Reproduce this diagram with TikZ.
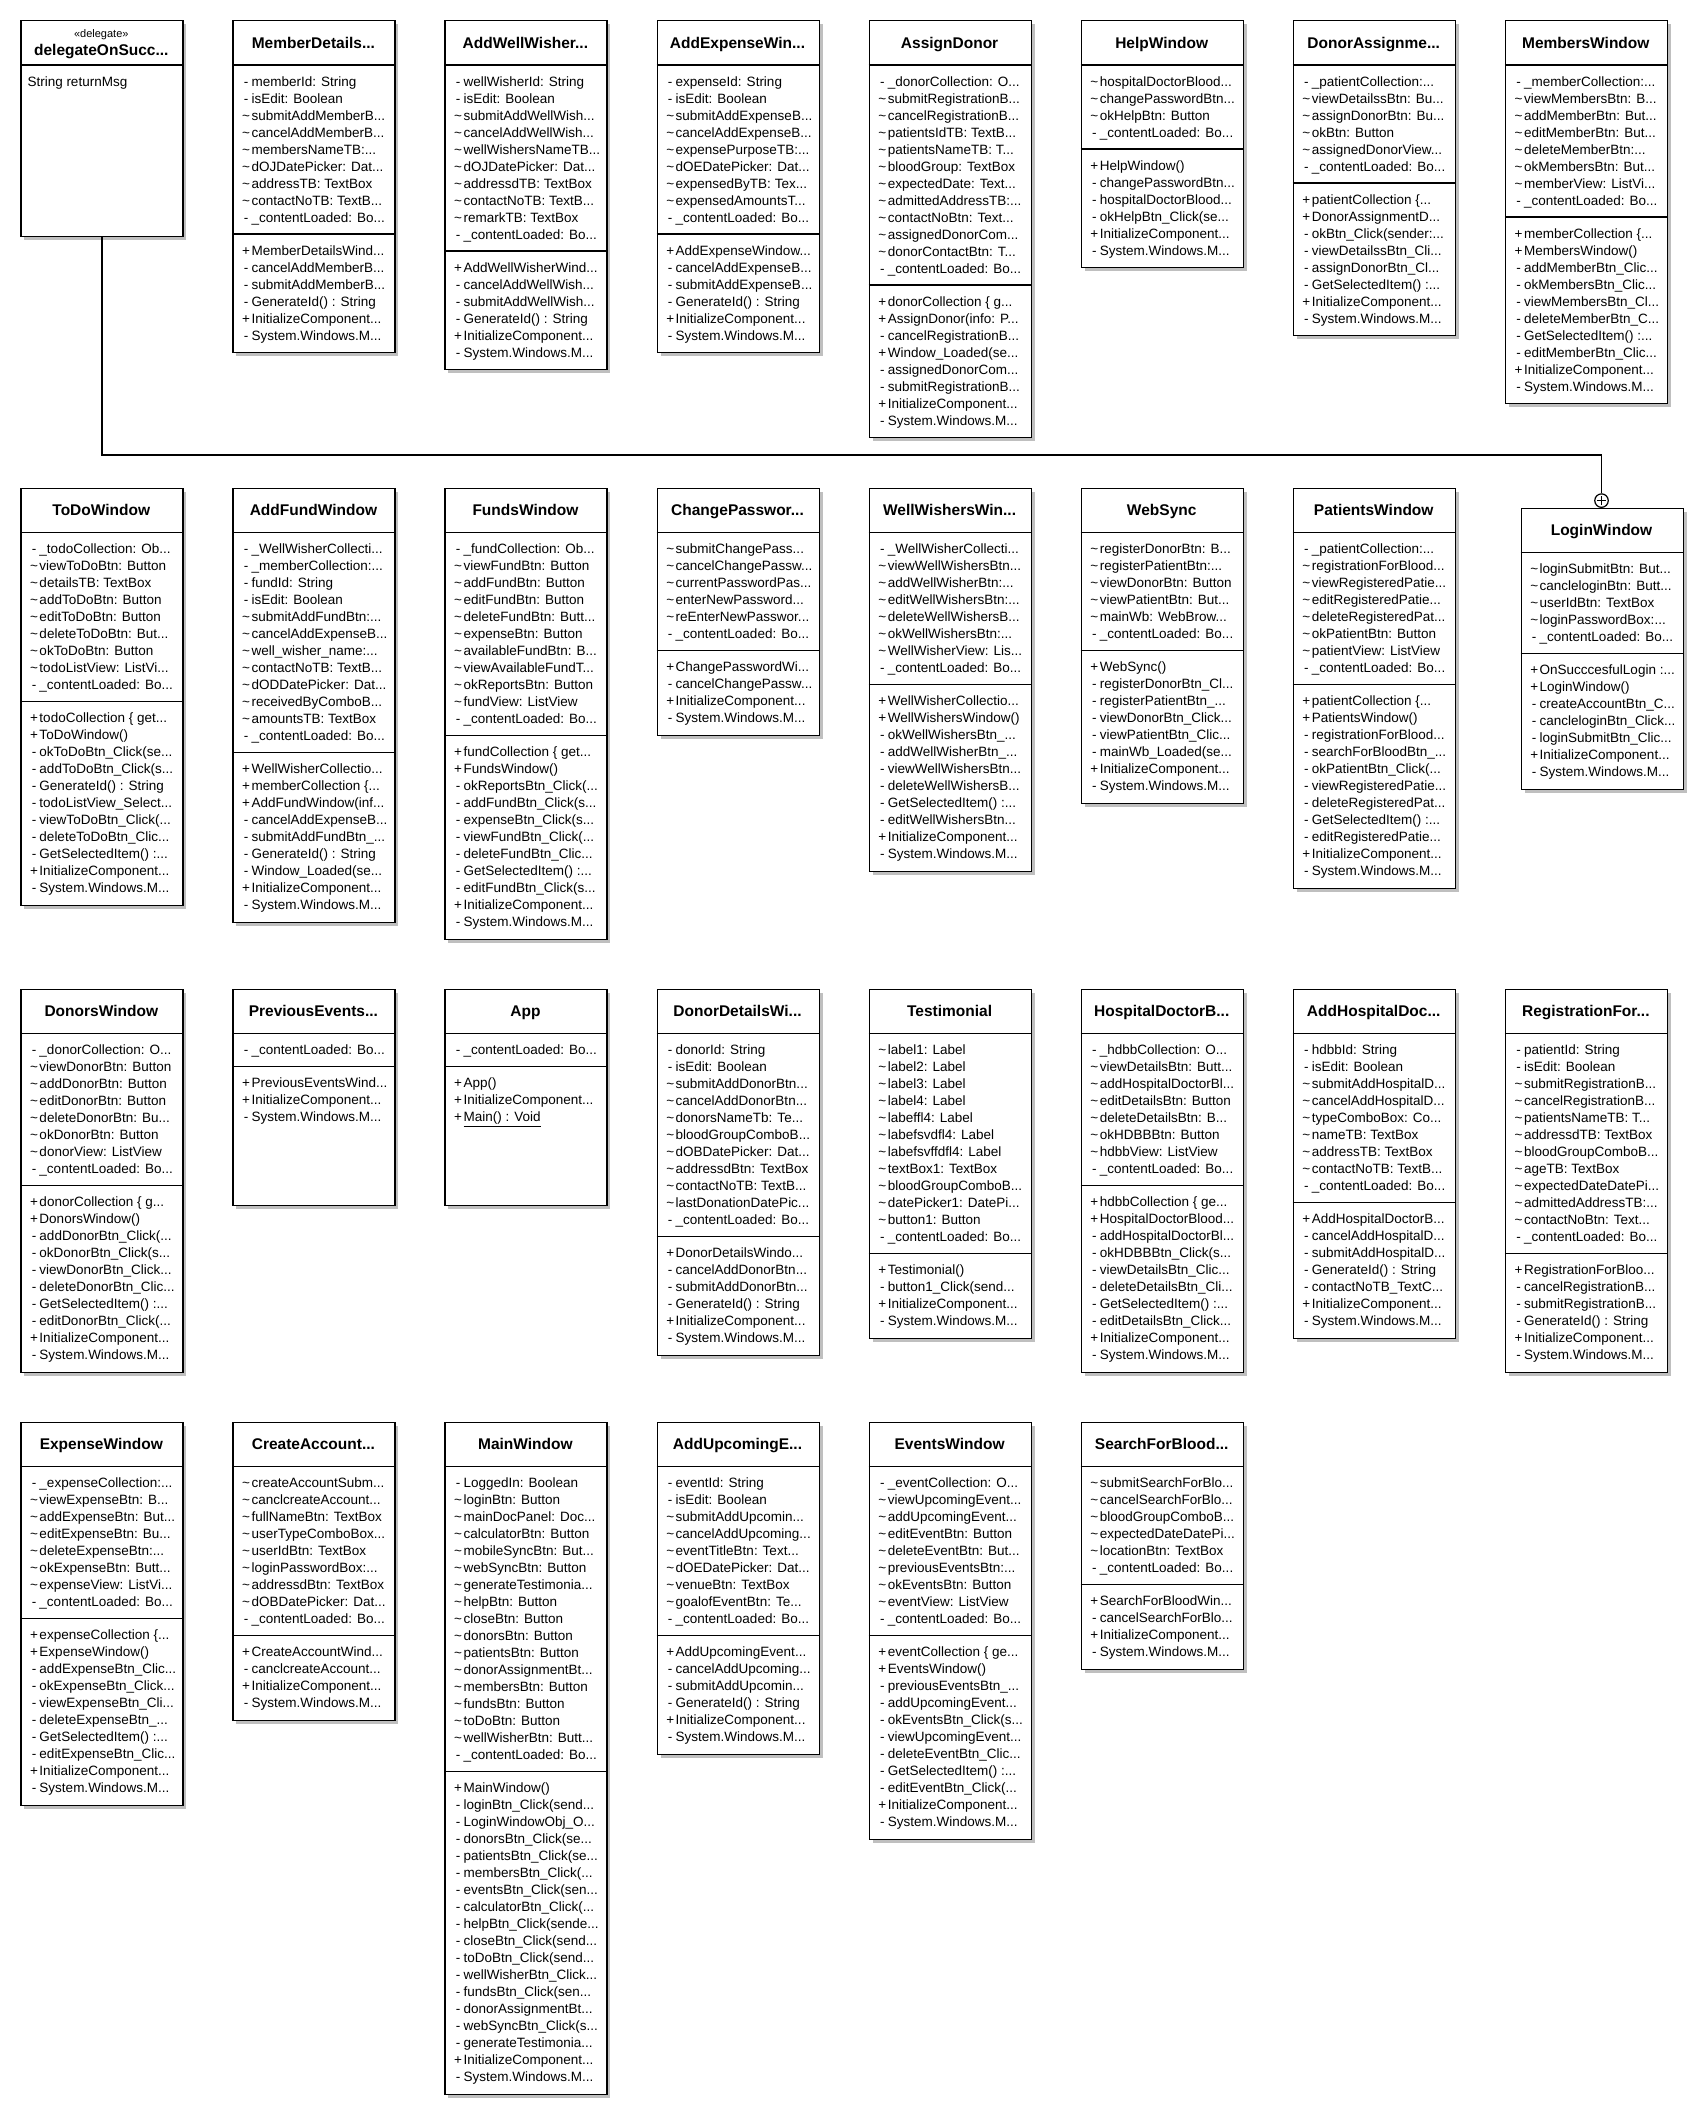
\documentclass[tikz,border=0pt]{standalone}
\usepackage{fontspec}
\setmainfont{Liberation Sans}
\newcommand\lnK[1]{\strut\hspace*{8pt}\makebox[11pt]{\textasciitilde}#1}
\newcommand\lnM[1]{\strut\hspace*{8pt}\makebox[11pt]{-}#1}
\newcommand\lnP[1]{\strut\hspace*{8pt}\makebox[11pt]{+}#1}
\tikzset{
  clsbox/.style={rectangle, draw=black, line width=1.2pt, fill=white, minimum width=162pt, inner sep=0pt, anchor=north west},
  divl/.style={line width=1.2pt},
  ttl/.style={anchor=base, inner sep=0pt, font=\fontsize{15.5}{18}\selectfont\bfseries},
  stereo/.style={anchor=base, inner sep=0pt, font=\fontsize{11}{13}\selectfont},
  cmp/.style={anchor=north west, inner sep=0pt, align=left, font=\fontsize{13.5}{17}\selectfont},
  shadowc/.style={fill=black!25},
  conn/.style={line width=1.2pt},
}
% #1 name, #2 x, #3 y, #4 title, #5 n attrs, #6 n ops, #7 attrs, #8 ops
\newcommand\umlbox[8]{%
  \pgfmathsetmacro\ua{45+17*#5+16}%
  \pgfmathsetmacro\uh{max(216,\ua+17*#6+16)}%
  \fill[shadowc] (#2+4,#3+4) rectangle (#2+166,#3+\uh+4);
  \node[clsbox, minimum height=\uh pt] (#1) at (#2,#3) {};
  \draw[divl] (#2,#3+45) -- (#2+162,#3+45);
  \draw[divl] (#2,#3+\ua) -- (#2+162,#3+\ua);
  \node[ttl] (#1-t) at (#2+81,#3+28.2) {#4};
  \node[cmp] (#1-a) at (#2,#3+54) {#7};
  \node[cmp] (#1-o) at (#2,#3+\ua+9) {#8};
}
\begin{document}
\begin{tikzpicture}[x=1pt,y=-1pt]
\useasboundingbox[fill=white] (0,0) rectangle (1707,2118);

% ---------- delegate ----------
\fill[shadowc] (24.3,24) rectangle (186.3,240);
\node[clsbox, minimum height=216pt] (deleg) at (20.3,20) {};
\draw[divl] (20.3,65) -- (182.3,65);
\node[stereo] (deleg-s) at (101.3,37) {«delegate»};
\node[ttl] (deleg-t) at (101.3,55.6) {delegateOnSucc...};
\node[cmp] (deleg-a) at (20.3,74) {\strut\hspace*{7pt}String returnMsg};

% ---------- row 1 ----------
\umlbox{memberdetails}{232.4}{20}{MemberDetails...}{9}{6}{%
\lnM{memberId: String}\\
\lnM{isEdit: Boolean}\\
\lnK{submitAddMemberB...}\\
\lnK{cancelAddMemberB...}\\
\lnK{membersNameTB:...}\\
\lnK{dOJDatePicker: Dat...}\\
\lnK{addressTB: TextBox}\\
\lnK{contactNoTB: TextB...}\\
\lnM{\_contentLoaded: Bo...}}{%
\lnP{MemberDetailsWind...}\\
\lnM{cancelAddMemberB...}\\
\lnM{submitAddMemberB...}\\
\lnM{GenerateId() : String}\\
\lnP{InitializeComponent...}\\
\lnM{System.Windows.M...}}

\umlbox{addwellwisher}{444.4}{20}{AddWellWisher...}{10}{6}{%
\lnM{wellWisherId: String}\\
\lnM{isEdit: Boolean}\\
\lnK{submitAddWellWish...}\\
\lnK{cancelAddWellWish...}\\
\lnK{wellWishersNameTB...}\\
\lnK{dOJDatePicker: Dat...}\\
\lnK{addressdTB: TextBox}\\
\lnK{contactNoTB: TextB...}\\
\lnK{remarkTB: TextBox}\\
\lnM{\_contentLoaded: Bo...}}{%
\lnP{AddWellWisherWind...}\\
\lnM{cancelAddWellWish...}\\
\lnM{submitAddWellWish...}\\
\lnM{GenerateId() : String}\\
\lnP{InitializeComponent...}\\
\lnM{System.Windows.M...}}

\umlbox{addexpense}{656.5}{20}{AddExpenseWin...}{9}{6}{%
\lnM{expenseId: String}\\
\lnM{isEdit: Boolean}\\
\lnK{submitAddExpenseB...}\\
\lnK{cancelAddExpenseB...}\\
\lnK{expensePurposeTB:...}\\
\lnK{dOEDatePicker: Dat...}\\
\lnK{expensedByTB: Tex...}\\
\lnK{expensedAmountsT...}\\
\lnM{\_contentLoaded: Bo...}}{%
\lnP{AddExpenseWindow...}\\
\lnM{cancelAddExpenseB...}\\
\lnM{submitAddExpenseB...}\\
\lnM{GenerateId() : String}\\
\lnP{InitializeComponent...}\\
\lnM{System.Windows.M...}}

\umlbox{assigndonor}{868.6}{20}{AssignDonor}{12}{8}{%
\lnM{\_donorCollection: O...}\\
\lnK{submitRegistrationB...}\\
\lnK{cancelRegistrationB...}\\
\lnK{patientsIdTB: TextB...}\\
\lnK{patientsNameTB: T...}\\
\lnK{bloodGroup: TextBox}\\
\lnK{expectedDate: Text...}\\
\lnK{admittedAddressTB:...}\\
\lnK{contactNoBtn: Text...}\\
\lnK{assignedDonorCom...}\\
\lnK{donorContactBtn: T...}\\
\lnM{\_contentLoaded: Bo...}}{%
\lnP{donorCollection \{ g...}\\
\lnP{AssignDonor(info: P...}\\
\lnM{cancelRegistrationB...}\\
\lnP{Window\_Loaded(se...}\\
\lnM{assignedDonorCom...}\\
\lnM{submitRegistrationB...}\\
\lnP{InitializeComponent...}\\
\lnM{System.Windows.M...}}

\umlbox{helpwindow}{1080.7}{20}{HelpWindow}{4}{6}{%
\lnK{hospitalDoctorBlood...}\\
\lnK{changePasswordBtn...}\\
\lnK{okHelpBtn: Button}\\
\lnM{\_contentLoaded: Bo...}}{%
\lnP{HelpWindow()}\\
\lnM{changePasswordBtn...}\\
\lnM{hospitalDoctorBlood...}\\
\lnM{okHelpBtn\_Click(se...}\\
\lnP{InitializeComponent...}\\
\lnM{System.Windows.M...}}

\umlbox{donorassignment}{1292.7}{20}{DonorAssignme...}{6}{8}{%
\lnM{\_patientCollection:...}\\
\lnK{viewDetailssBtn: Bu...}\\
\lnK{assignDonorBtn: Bu...}\\
\lnK{okBtn: Button}\\
\lnK{assignedDonorView...}\\
\lnM{\_contentLoaded: Bo...}}{%
\lnP{patientCollection \{...}\\
\lnP{DonorAssignmentD...}\\
\lnM{okBtn\_Click(sender:...}\\
\lnM{viewDetailssBtn\_Cli...}\\
\lnM{assignDonorBtn\_Cl...}\\
\lnM{GetSelectedItem() :...}\\
\lnP{InitializeComponent...}\\
\lnM{System.Windows.M...}}

\umlbox{memberswindow}{1504.8}{20}{MembersWindow}{8}{10}{%
\lnM{\_memberCollection:...}\\
\lnK{viewMembersBtn: B...}\\
\lnK{addMemberBtn: But...}\\
\lnK{editMemberBtn: But...}\\
\lnK{deleteMemberBtn:...}\\
\lnK{okMembersBtn: But...}\\
\lnK{memberView: ListVi...}\\
\lnM{\_contentLoaded: Bo...}}{%
\lnP{memberCollection \{...}\\
\lnP{MembersWindow()}\\
\lnM{addMemberBtn\_Clic...}\\
\lnM{okMembersBtn\_Clic...}\\
\lnM{viewMembersBtn\_Cl...}\\
\lnM{deleteMemberBtn\_C...}\\
\lnM{GetSelectedItem() :...}\\
\lnM{editMemberBtn\_Clic...}\\
\lnP{InitializeComponent...}\\
\lnM{System.Windows.M...}}

% ---------- row 2 ----------
\umlbox{todowindow}{20.3}{487.5}{ToDoWindow}{9}{11}{%
\lnM{\_todoCollection: Ob...}\\
\lnK{viewToDoBtn: Button}\\
\lnK{detailsTB: TextBox}\\
\lnK{addToDoBtn: Button}\\
\lnK{editToDoBtn: Button}\\
\lnK{deleteToDoBtn: But...}\\
\lnK{okToDoBtn: Button}\\
\lnK{todoListView: ListVi...}\\
\lnM{\_contentLoaded: Bo...}}{%
\lnP{todoCollection \{ get...}\\
\lnP{ToDoWindow()}\\
\lnM{okToDoBtn\_Click(se...}\\
\lnM{addToDoBtn\_Click(s...}\\
\lnM{GenerateId() : String}\\
\lnM{todoListView\_Select...}\\
\lnM{viewToDoBtn\_Click(...}\\
\lnM{deleteToDoBtn\_Clic...}\\
\lnM{GetSelectedItem() :...}\\
\lnP{InitializeComponent...}\\
\lnM{System.Windows.M...}}

\umlbox{addfund}{232.4}{487.5}{AddFundWindow}{12}{9}{%
\lnM{\_WellWisherCollecti...}\\
\lnM{\_memberCollection:...}\\
\lnM{fundId: String}\\
\lnM{isEdit: Boolean}\\
\lnK{submitAddFundBtn:...}\\
\lnK{cancelAddExpenseB...}\\
\lnK{well\_wisher\_name:...}\\
\lnK{contactNoTB: TextB...}\\
\lnK{dODDatePicker: Dat...}\\
\lnK{receivedByComboB...}\\
\lnK{amountsTB: TextBox}\\
\lnM{\_contentLoaded: Bo...}}{%
\lnP{WellWisherCollectio...}\\
\lnP{memberCollection \{...}\\
\lnP{AddFundWindow(inf...}\\
\lnM{cancelAddExpenseB...}\\
\lnM{submitAddFundBtn\_...}\\
\lnM{GenerateId() : String}\\
\lnM{Window\_Loaded(se...}\\
\lnP{InitializeComponent...}\\
\lnM{System.Windows.M...}}

\umlbox{fundswindow}{444.4}{487.5}{FundsWindow}{11}{11}{%
\lnM{\_fundCollection: Ob...}\\
\lnK{viewFundBtn: Button}\\
\lnK{addFundBtn: Button}\\
\lnK{editFundBtn: Button}\\
\lnK{deleteFundBtn: Butt...}\\
\lnK{expenseBtn: Button}\\
\lnK{availableFundBtn: B...}\\
\lnK{viewAvailableFundT...}\\
\lnK{okReportsBtn: Button}\\
\lnK{fundView: ListView}\\
\lnM{\_contentLoaded: Bo...}}{%
\lnP{fundCollection \{ get...}\\
\lnP{FundsWindow()}\\
\lnM{okReportsBtn\_Click(...}\\
\lnM{addFundBtn\_Click(s...}\\
\lnM{expenseBtn\_Click(s...}\\
\lnM{viewFundBtn\_Click(...}\\
\lnM{deleteFundBtn\_Clic...}\\
\lnM{GetSelectedItem() :...}\\
\lnM{editFundBtn\_Click(s...}\\
\lnP{InitializeComponent...}\\
\lnM{System.Windows.M...}}

\umlbox{changepassword}{656.5}{487.5}{ChangePasswor...}{6}{4}{%
\lnK{submitChangePass...}\\
\lnK{cancelChangePassw...}\\
\lnK{currentPasswordPas...}\\
\lnK{enterNewPassword...}\\
\lnK{reEnterNewPasswor...}\\
\lnM{\_contentLoaded: Bo...}}{%
\lnP{ChangePasswordWi...}\\
\lnM{cancelChangePassw...}\\
\lnP{InitializeComponent...}\\
\lnM{System.Windows.M...}}

\umlbox{wellwishers}{868.6}{487.5}{WellWishersWin...}{8}{10}{%
\lnM{\_WellWisherCollecti...}\\
\lnK{viewWellWishersBtn...}\\
\lnK{addWellWisherBtn:...}\\
\lnK{editWellWishersBtn:...}\\
\lnK{deleteWellWishersB...}\\
\lnK{okWellWishersBtn:...}\\
\lnK{WellWisherView: Lis...}\\
\lnM{\_contentLoaded: Bo...}}{%
\lnP{WellWisherCollectio...}\\
\lnP{WellWishersWindow()}\\
\lnM{okWellWishersBtn\_...}\\
\lnM{addWellWisherBtn\_...}\\
\lnM{viewWellWishersBtn...}\\
\lnM{deleteWellWishersB...}\\
\lnM{GetSelectedItem() :...}\\
\lnM{editWellWishersBtn...}\\
\lnP{InitializeComponent...}\\
\lnM{System.Windows.M...}}

\umlbox{websync}{1080.7}{487.5}{WebSync}{6}{8}{%
\lnK{registerDonorBtn: B...}\\
\lnK{registerPatientBtn:...}\\
\lnK{viewDonorBtn: Button}\\
\lnK{viewPatientBtn: But...}\\
\lnK{mainWb: WebBrow...}\\
\lnM{\_contentLoaded: Bo...}}{%
\lnP{WebSync()}\\
\lnM{registerDonorBtn\_Cl...}\\
\lnM{registerPatientBtn\_...}\\
\lnM{viewDonorBtn\_Click...}\\
\lnM{viewPatientBtn\_Clic...}\\
\lnM{mainWb\_Loaded(se...}\\
\lnP{InitializeComponent...}\\
\lnM{System.Windows.M...}}

\umlbox{patientswindow}{1292.7}{487.5}{PatientsWindow}{8}{11}{%
\lnM{\_patientCollection:...}\\
\lnK{registrationForBlood...}\\
\lnK{viewRegisteredPatie...}\\
\lnK{editRegisteredPatie...}\\
\lnK{deleteRegisteredPat...}\\
\lnK{okPatientBtn: Button}\\
\lnK{patientView: ListView}\\
\lnM{\_contentLoaded: Bo...}}{%
\lnP{patientCollection \{...}\\
\lnP{PatientsWindow()}\\
\lnM{registrationForBlood...}\\
\lnM{searchForBloodBtn\_...}\\
\lnM{okPatientBtn\_Click(...}\\
\lnM{viewRegisteredPatie...}\\
\lnM{deleteRegisteredPat...}\\
\lnM{GetSelectedItem() :...}\\
\lnM{editRegisteredPatie...}\\
\lnP{InitializeComponent...}\\
\lnM{System.Windows.M...}}

\umlbox{loginwindow}{1520.5}{507.7}{LoginWindow}{5}{7}{%
\lnK{loginSubmitBtn: But...}\\
\lnK{cancleloginBtn: Butt...}\\
\lnK{userIdBtn: TextBox}\\
\lnK{loginPasswordBox:...}\\
\lnM{\_contentLoaded: Bo...}}{%
\lnP{OnSucccesfulLogin :...}\\
\lnP{LoginWindow()}\\
\lnM{createAccountBtn\_C...}\\
\lnM{cancleloginBtn\_Click...}\\
\lnM{loginSubmitBtn\_Clic...}\\
\lnP{InitializeComponent...}\\
\lnM{System.Windows.M...}}

% ---------- row 3 ----------
\umlbox{donorswindow}{20.3}{988.5}{DonorsWindow}{8}{10}{%
\lnM{\_donorCollection: O...}\\
\lnK{viewDonorBtn: Button}\\
\lnK{addDonorBtn: Button}\\
\lnK{editDonorBtn: Button}\\
\lnK{deleteDonorBtn: Bu...}\\
\lnK{okDonorBtn: Button}\\
\lnK{donorView: ListView}\\
\lnM{\_contentLoaded: Bo...}}{%
\lnP{donorCollection \{ g...}\\
\lnP{DonorsWindow()}\\
\lnM{addDonorBtn\_Click(...}\\
\lnM{okDonorBtn\_Click(s...}\\
\lnM{viewDonorBtn\_Click...}\\
\lnM{deleteDonorBtn\_Clic...}\\
\lnM{GetSelectedItem() :...}\\
\lnM{editDonorBtn\_Click(...}\\
\lnP{InitializeComponent...}\\
\lnM{System.Windows.M...}}

\umlbox{previousevents}{232.4}{988.5}{PreviousEvents...}{1}{3}{%
\lnM{\_contentLoaded: Bo...}}{%
\lnP{PreviousEventsWind...}\\
\lnP{InitializeComponent...}\\
\lnM{System.Windows.M...}}

\umlbox{app}{444.4}{988.5}{App}{1}{3}{%
\lnM{\_contentLoaded: Bo...}}{%
\lnP{App()}\\
\lnP{InitializeComponent...}\\
\lnP{\underline{Main() : Void}}}

\umlbox{donordetails}{656.5}{988.5}{DonorDetailsWi...}{11}{6}{%
\lnM{donorId: String}\\
\lnM{isEdit: Boolean}\\
\lnK{submitAddDonorBtn...}\\
\lnK{cancelAddDonorBtn...}\\
\lnK{donorsNameTb: Te...}\\
\lnK{bloodGroupComboB...}\\
\lnK{dOBDatePicker: Dat...}\\
\lnK{addressdBtn: TextBox}\\
\lnK{contactNoTB: TextB...}\\
\lnK{lastDonationDatePic...}\\
\lnM{\_contentLoaded: Bo...}}{%
\lnP{DonorDetailsWindo...}\\
\lnM{cancelAddDonorBtn...}\\
\lnM{submitAddDonorBtn...}\\
\lnM{GenerateId() : String}\\
\lnP{InitializeComponent...}\\
\lnM{System.Windows.M...}}

\umlbox{testimonial}{868.6}{988.5}{Testimonial}{12}{4}{%
\lnK{label1: Label}\\
\lnK{label2: Label}\\
\lnK{label3: Label}\\
\lnK{label4: Label}\\
\lnK{labeffl4: Label}\\
\lnK{labefsvdfl4: Label}\\
\lnK{labefsvffdfl4: Label}\\
\lnK{textBox1: TextBox}\\
\lnK{bloodGroupComboB...}\\
\lnK{datePicker1: DatePi...}\\
\lnK{button1: Button}\\
\lnM{\_contentLoaded: Bo...}}{%
\lnP{Testimonial()}\\
\lnM{button1\_Click(send...}\\
\lnP{InitializeComponent...}\\
\lnM{System.Windows.M...}}

\umlbox{hospitaldoctor}{1080.7}{988.5}{HospitalDoctorB...}{8}{10}{%
\lnM{\_hdbbCollection: O...}\\
\lnK{viewDetailsBtn: Butt...}\\
\lnK{addHospitalDoctorBl...}\\
\lnK{editDetailsBtn: Button}\\
\lnK{deleteDetailsBtn: B...}\\
\lnK{okHDBBBtn: Button}\\
\lnK{hdbbView: ListView}\\
\lnM{\_contentLoaded: Bo...}}{%
\lnP{hdbbCollection \{ ge...}\\
\lnP{HospitalDoctorBlood...}\\
\lnM{addHospitalDoctorBl...}\\
\lnM{okHDBBBtn\_Click(s...}\\
\lnM{viewDetailsBtn\_Clic...}\\
\lnM{deleteDetailsBtn\_Cli...}\\
\lnM{GetSelectedItem() :...}\\
\lnM{editDetailsBtn\_Click...}\\
\lnP{InitializeComponent...}\\
\lnM{System.Windows.M...}}

\umlbox{addhospital}{1292.7}{988.5}{AddHospitalDoc...}{9}{7}{%
\lnM{hdbbId: String}\\
\lnM{isEdit: Boolean}\\
\lnK{submitAddHospitalD...}\\
\lnK{cancelAddHospitalD...}\\
\lnK{typeComboBox: Co...}\\
\lnK{nameTB: TextBox}\\
\lnK{addressTB: TextBox}\\
\lnK{contactNoTB: TextB...}\\
\lnM{\_contentLoaded: Bo...}}{%
\lnP{AddHospitalDoctorB...}\\
\lnM{cancelAddHospitalD...}\\
\lnM{submitAddHospitalD...}\\
\lnM{GenerateId() : String}\\
\lnM{contactNoTB\_TextC...}\\
\lnP{InitializeComponent...}\\
\lnM{System.Windows.M...}}

\umlbox{registration}{1504.8}{988.5}{RegistrationFor...}{12}{6}{%
\lnM{patientId: String}\\
\lnM{isEdit: Boolean}\\
\lnK{submitRegistrationB...}\\
\lnK{cancelRegistrationB...}\\
\lnK{patientsNameTB: T...}\\
\lnK{addressdTB: TextBox}\\
\lnK{bloodGroupComboB...}\\
\lnK{ageTB: TextBox}\\
\lnK{expectedDateDatePi...}\\
\lnK{admittedAddressTB:...}\\
\lnK{contactNoBtn: Text...}\\
\lnM{\_contentLoaded: Bo...}}{%
\lnP{RegistrationForBloo...}\\
\lnM{cancelRegistrationB...}\\
\lnM{submitRegistrationB...}\\
\lnM{GenerateId() : String}\\
\lnP{InitializeComponent...}\\
\lnM{System.Windows.M...}}

% ---------- row 4 ----------
\umlbox{expensewindow}{20.3}{1421.5}{ExpenseWindow}{8}{10}{%
\lnM{\_expenseCollection:...}\\
\lnK{viewExpenseBtn: B...}\\
\lnK{addExpenseBtn: But...}\\
\lnK{editExpenseBtn: Bu...}\\
\lnK{deleteExpenseBtn:...}\\
\lnK{okExpenseBtn: Butt...}\\
\lnK{expenseView: ListVi...}\\
\lnM{\_contentLoaded: Bo...}}{%
\lnP{expenseCollection \{...}\\
\lnP{ExpenseWindow()}\\
\lnM{addExpenseBtn\_Clic...}\\
\lnM{okExpenseBtn\_Click...}\\
\lnM{viewExpenseBtn\_Cli...}\\
\lnM{deleteExpenseBtn\_...}\\
\lnM{GetSelectedItem() :...}\\
\lnM{editExpenseBtn\_Clic...}\\
\lnP{InitializeComponent...}\\
\lnM{System.Windows.M...}}

\umlbox{createaccount}{232.4}{1421.5}{CreateAccount...}{9}{4}{%
\lnK{createAccountSubm...}\\
\lnK{canclcreateAccount...}\\
\lnK{fullNameBtn: TextBox}\\
\lnK{userTypeComboBox...}\\
\lnK{userIdBtn: TextBox}\\
\lnK{loginPasswordBox:...}\\
\lnK{addressdBtn: TextBox}\\
\lnK{dOBDatePicker: Dat...}\\
\lnM{\_contentLoaded: Bo...}}{%
\lnP{CreateAccountWind...}\\
\lnM{canclcreateAccount...}\\
\lnP{InitializeComponent...}\\
\lnM{System.Windows.M...}}

\umlbox{mainwindow}{444.4}{1421.5}{MainWindow}{17}{18}{%
\lnM{LoggedIn: Boolean}\\
\lnK{loginBtn: Button}\\
\lnK{mainDocPanel: Doc...}\\
\lnK{calculatorBtn: Button}\\
\lnK{mobileSyncBtn: But...}\\
\lnK{webSyncBtn: Button}\\
\lnK{generateTestimonia...}\\
\lnK{helpBtn: Button}\\
\lnK{closeBtn: Button}\\
\lnK{donorsBtn: Button}\\
\lnK{patientsBtn: Button}\\
\lnK{donorAssignmentBt...}\\
\lnK{membersBtn: Button}\\
\lnK{fundsBtn: Button}\\
\lnK{toDoBtn: Button}\\
\lnK{wellWisherBtn: Butt...}\\
\lnM{\_contentLoaded: Bo...}}{%
\lnP{MainWindow()}\\
\lnM{loginBtn\_Click(send...}\\
\lnM{LoginWindowObj\_O...}\\
\lnM{donorsBtn\_Click(se...}\\
\lnM{patientsBtn\_Click(se...}\\
\lnM{membersBtn\_Click(...}\\
\lnM{eventsBtn\_Click(sen...}\\
\lnM{calculatorBtn\_Click(...}\\
\lnM{helpBtn\_Click(sende...}\\
\lnM{closeBtn\_Click(send...}\\
\lnM{toDoBtn\_Click(send...}\\
\lnM{wellWisherBtn\_Click...}\\
\lnM{fundsBtn\_Click(sen...}\\
\lnM{donorAssignmentBt...}\\
\lnM{webSyncBtn\_Click(s...}\\
\lnM{generateTestimonia...}\\
\lnP{InitializeComponent...}\\
\lnM{System.Windows.M...}}

\umlbox{addupcoming}{656.5}{1421.5}{AddUpcomingE...}{9}{6}{%
\lnM{eventId: String}\\
\lnM{isEdit: Boolean}\\
\lnK{submitAddUpcomin...}\\
\lnK{cancelAddUpcoming...}\\
\lnK{eventTitleBtn: Text...}\\
\lnK{dOEDatePicker: Dat...}\\
\lnK{venueBtn: TextBox}\\
\lnK{goalofEventBtn: Te...}\\
\lnM{\_contentLoaded: Bo...}}{%
\lnP{AddUpcomingEvent...}\\
\lnM{cancelAddUpcoming...}\\
\lnM{submitAddUpcomin...}\\
\lnM{GenerateId() : String}\\
\lnP{InitializeComponent...}\\
\lnM{System.Windows.M...}}

\umlbox{eventswindow}{868.6}{1421.5}{EventsWindow}{9}{11}{%
\lnM{\_eventCollection: O...}\\
\lnK{viewUpcomingEvent...}\\
\lnK{addUpcomingEvent...}\\
\lnK{editEventBtn: Button}\\
\lnK{deleteEventBtn: But...}\\
\lnK{previousEventsBtn:...}\\
\lnK{okEventsBtn: Button}\\
\lnK{eventView: ListView}\\
\lnM{\_contentLoaded: Bo...}}{%
\lnP{eventCollection \{ ge...}\\
\lnP{EventsWindow()}\\
\lnM{previousEventsBtn\_...}\\
\lnM{addUpcomingEvent...}\\
\lnM{okEventsBtn\_Click(s...}\\
\lnM{viewUpcomingEvent...}\\
\lnM{deleteEventBtn\_Clic...}\\
\lnM{GetSelectedItem() :...}\\
\lnM{editEventBtn\_Click(...}\\
\lnP{InitializeComponent...}\\
\lnM{System.Windows.M...}}

\umlbox{searchforblood}{1080.7}{1421.5}{SearchForBlood...}{6}{4}{%
\lnK{submitSearchForBlo...}\\
\lnK{cancelSearchForBlo...}\\
\lnK{bloodGroupComboB...}\\
\lnK{expectedDateDatePi...}\\
\lnK{locationBtn: TextBox}\\
\lnM{\_contentLoaded: Bo...}}{%
\lnP{SearchForBloodWin...}\\
\lnM{cancelSearchForBlo...}\\
\lnP{InitializeComponent...}\\
\lnM{System.Windows.M...}}

% ---------- nesting connector ----------
\node[circle, draw=black, line width=1.2pt, fill=white, minimum size=13.5pt, inner sep=0pt] (nest) at (1601.5,500.6) {};
\draw[line width=1.1pt] ([xshift=-4.5pt]nest.center) -- ([xshift=4.5pt]nest.center);
\draw[line width=1.1pt] ([yshift=-4.5pt]nest.center) -- ([yshift=4.5pt]nest.center);
\coordinate (elbow) at (1601.5,455);
\draw[conn] (deleg.south) |- (elbow) -- (nest.north);
\end{tikzpicture}
\end{document}
